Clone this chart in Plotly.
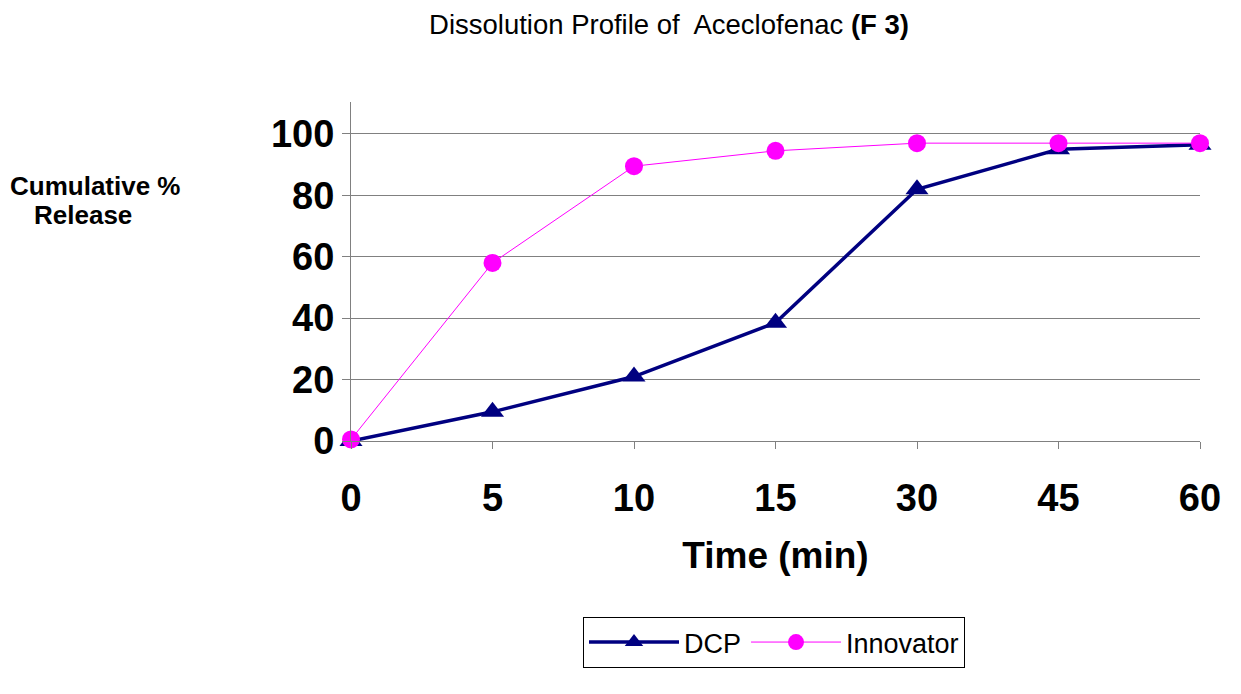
import plotly.graph_objects as go

time_labels = ["0", "5", "10", "15", "30", "45", "60"]
dcp = [0, 9.5, 21, 38.5, 82, 95, 96.5]
innovator = [0.5, 58, 89.5, 94.5, 97, 97, 97]
y_ticks = [0, 20, 40, 60, 80, 100]

# page body has an 8px default margin; compensate so the plot lands where the reference is
OFF = 8
W, H = 1241, 694
px_left, px_right, px_top, px_bottom = 351, 1200, 102, 441
L = px_left - OFF
T = px_top - OFF
R = W + OFF - px_right
B = H + OFF - px_bottom
pw, ph = px_right - px_left, px_bottom - px_top

FONT = "Liberation Sans, Arial, sans-serif"

fig = go.Figure()
fig.add_trace(go.Scatter(
    x=time_labels, y=dcp, name="DCP", mode="lines+markers",
    line=dict(color="#000080", width=3.5),
    marker=dict(symbol="triangle-up", size=20, color="#000080"),
    cliponaxis=False,
))
fig.add_trace(go.Scatter(
    x=time_labels, y=innovator, name="Innovator", mode="lines+markers",
    line=dict(color="#FF00FF", width=1),
    marker=dict(symbol="circle", size=18, color="#FF00FF"),
    cliponaxis=False,
))

fig.update_layout(
    width=W, height=H,
    margin=dict(l=L, r=R, t=T, b=B, autoexpand=False),
    paper_bgcolor="white", plot_bgcolor="white",
    font=dict(family=FONT, color="black"),
    title=dict(
        text="Dissolution Profile of  Aceclofenac <b>(F 3)</b>",
        x=(669 - OFF) / W, xref="container", xanchor="center",
        y=1 - (24 - OFF) / H, yref="container", yanchor="middle",
        font=dict(size=27.5, family=FONT),
    ),
    xaxis=dict(
        type="category", categoryorder="array", categoryarray=time_labels,
        range=[0, 6], showgrid=False, zeroline=False,
        showline=True, linecolor="#808080", linewidth=1,
        ticks="outside", ticklen=7, tickcolor="#808080",
        ticklabelstandoff=16,
        tickfont=dict(size=38, family=FONT, weight="bold"),
        title=dict(text="Time (min)", font=dict(size=37, weight="bold"), standoff=24),
    ),
    yaxis=dict(
        range=[0, 110.4], tickvals=y_ticks, showgrid=True,
        gridcolor="#808080", gridwidth=1, zeroline=False,
        showline=True, linecolor="#808080", linewidth=1,
        ticks="outside", ticklen=8, tickcolor="#808080",
        tickfont=dict(size=38, family=FONT, weight="bold"),
    ),
    legend=dict(
        orientation="h", x=(583 - px_left) / pw, xanchor="left",
        y=(px_bottom - 617) / ph, yanchor="top",
        bordercolor="black", borderwidth=1, bgcolor="white",
        font=dict(size=27, family=FONT),
        itemwidth=90,
    ),
    showlegend=True,
)

for txt, cx, cy in [("Cumulative %", 96, 186), ("Release", 83, 215)]:
    fig.add_annotation(
        text=txt, xref="paper", yref="paper",
        x=(cx - px_left) / pw, y=(px_bottom - cy) / ph,
        xanchor="center", yanchor="middle", showarrow=False,
        font=dict(size=26, family=FONT, weight="bold"),
    )

fig.write_html("out.html")
